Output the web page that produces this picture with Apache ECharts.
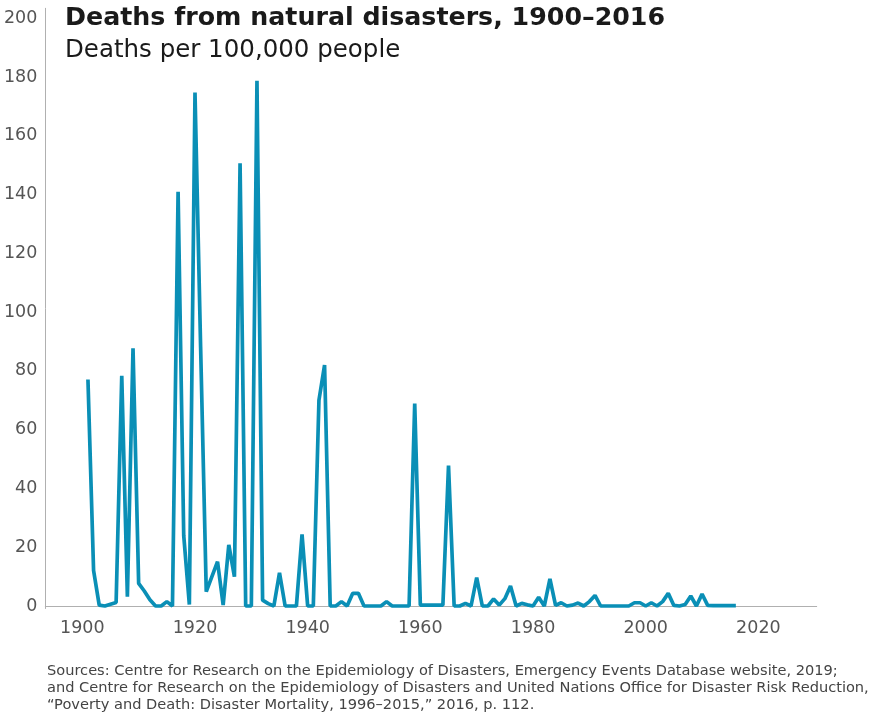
<!DOCTYPE html>
<html>
<head>
<meta charset="utf-8">
<script src="https://cdn.jsdelivr.net/npm/echarts@6/dist/echarts.min.js"></script>
<style>
html,body{margin:0;padding:0;background:#fff;}
#chart{width:874px;height:719px;}
</style>
</head>
<body>
<div id="chart"></div>
<script>
// Years with data (first visible point is 1901, last 2016)
const firstYear = 1901;
const lastYear = 2016;
const years = [];
for (let y = firstYear; y <= lastYear; y++) years.push(y);

// Deaths per 100,000 people
const deathRate = [
  77.1, 12.1, 0.3, 0, 0.6, 1.2, 78.3, 3.2, 87.7, 7.7,      // 1901-1910
  5.1, 2.1, 0, 0, 1.5, 0, 141.0, 24, 0.5, 174.7,           // 1911-1920
  88, 4.9, 10, 15.1, 0.3, 20.8, 10, 150.7, 0, 0,           // 1921-1930
  178.7, 2, 0.8, 0, 11.3, 0, 0, 0, 24.4, 0,                // 1931-1940
  0, 70, 82, 0, 0, 1.5, 0, 4.3, 4.3, 0,                    // 1941-1950
  0, 0, 0, 1.5, 0, 0, 0, 0, 68.9, 0.3,                     // 1951-1960
  0.3, 0.3, 0.3, 0.3, 47.8, 0, 0, 0.9, 0, 9.7,             // 1961-1970
  0, 0, 2.4, 0.3, 2.5, 6.8, 0, 0.9, 0.4, 0,                // 1971-1980
  3.0, 0, 9.2, 0.2, 1.1, 0, 0.3, 1.0, 0, 1.5,              // 1981-1990
  3.6, 0, 0, 0, 0, 0, 0, 1.1, 1.1, 0,                      // 1991-2000
  1.1, 0, 1.5, 4.3, 0.2, 0, 0.5, 3.4, 0, 4.1,              // 2001-2010
  0.2, 0.1, 0.1, 0.1, 0.1, 0.1                             // 2011-2016
];

const xTickLabels = [1900, 1920, 1940, 1960, 1980, 2000, 2020];
const yTickLabels = [0, 20, 40, 60, 80, 100, 120, 140, 160, 180, 200];

const titleText = 'Deaths from natural disasters, 1900–2016';
const subtitleText = 'Deaths per 100,000 people';
const sourceText = 'Sources: Centre for Research on the Epidemiology of Disasters, Emergency Events Database website, 2019;\n' +
  'and Centre for Research on the Epidemiology of Disasters and United Nations Office for Disaster Risk Reduction,\n' +
  '“Poverty and Death: Disaster Mortality, 1996–2015,” 2016, p. 112.';

const FONT = '"DejaVu Sans", sans-serif';

const chart = echarts.init(document.getElementById('chart'), null, {renderer: 'canvas'});
chart.setOption({
  animation: false,
  backgroundColor: '#ffffff',
  title: [
    {
      text: titleText, left: 65, top: 3, padding: 0,
      textStyle: {fontFamily: FONT, fontWeight: 'bold', fontSize: 25.3, lineHeight: 30, color: '#1a1a1a'}
    },
    {
      text: subtitleText, left: 65, top: 37, padding: 0,
      textStyle: {fontFamily: FONT, fontWeight: 'normal', fontSize: 24.5, lineHeight: 28, color: '#1a1a1a'}
    },
    {
      text: sourceText, left: 47, top: 663, padding: 0,
      textStyle: {fontFamily: FONT, fontWeight: 'normal', fontSize: 14.6, lineHeight: 16.7, color: '#444444'}
    }
  ],
  grid: {left: 45.3, right: 57.3, top: 8.3, bottom: 110.5, containLabel: false},
  xAxis: {
    type: 'value',
    min: 1893.43,
    max: 2030.35,
    splitLine: {show: false},
    axisTick: {show: false},
    axisLine: {show: true, lineStyle: {color: '#b0b0b0', width: 1}},
    axisLabel: {
      customValues: xTickLabels,
      formatter: v => String(v),
      fontFamily: FONT, fontWeight: 'normal', fontSize: 17.5, color: '#555555', margin: 11
    }
  },
  yAxis: {
    type: 'value',
    min: -0.85,
    max: 203.4,
    splitLine: {show: false},
    axisTick: {show: false},
    axisLine: {show: true, lineStyle: {color: '#b0b0b0', width: 1}},
    axisLabel: {
      customValues: yTickLabels,
      formatter: v => String(v),
      fontFamily: FONT, fontWeight: 'normal', fontSize: 17.5, color: '#555555', margin: 8
    }
  },
  series: [{
    type: 'line',
    data: years.map((y, i) => [y, deathRate[i]]),
    showSymbol: false,
    silent: true,
    lineStyle: {color: '#0a8fb6', width: 3.7}
  }]
});
</script>
</body>
</html>
